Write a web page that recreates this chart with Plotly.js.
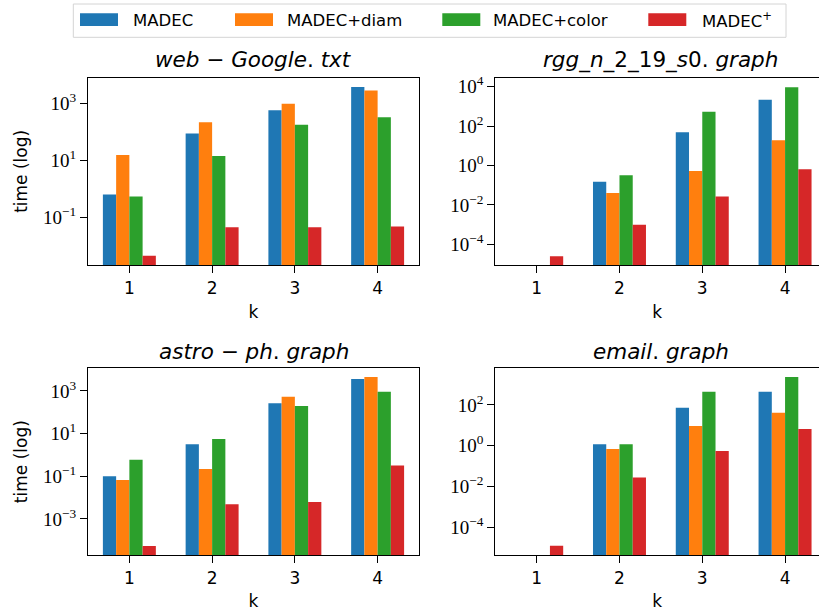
<!DOCTYPE html>
<html>
<head>
<meta charset="utf-8">
<script src="https://cdn.plot.ly/plotly-3.0.1.min.js"></script>
<style>
  html, body { margin: 0; padding: 0; background: #fff; }
  #chart { width: 819px; height: 611px; }
</style>
</head>
<body>
<div id="chart"></div>
<script>
// ---------------- data ----------------
const kValues = [1, 2, 3, 4];
const seriesNames = ['MADEC', 'MADEC+diam', 'MADEC+color', 'MADEC<sup>+</sup>'];
const subplotTitles = [
  '<i>web</i> − <i>Google</i>. <i>txt</i>',
  '<i>rgg</i>_<i>n</i>_2_19_<i>s</i>0. <i>graph</i>',
  '<i>astro</i> − <i>ph</i>. <i>graph</i>',
  '<i>email</i>. <i>graph</i>'
];

// web-Google.txt
const webMADEC = [0.62, 86, 553, 3650];
const webDiam  = [15, 210, 950, 2780];
const webColor = [0.53, 13.8, 174, 314];
const webPlus  = [0.0044, 0.044, 0.044, 0.046];

// rgg_n_2_19_s0.graph
const rggMADEC = [null, 0.148, 49, 2150];
const rggDiam  = [null, 0.04, 0.52, 19.4];
const rggColor = [null, 0.32, 530, 9500];
const rggPlus  = [0.000025, 0.00098, 0.027, 0.65];

// astro-ph.graph
const astroMADEC = [0.1, 3.2, 263, 3650];
const astroDiam  = [0.067, 0.22, 540, 4530];
const astroColor = [0.6, 5.6, 198, 930];
const astroPlus  = [0.000054, 0.0049, 0.0063, 0.32];

// email.graph
const emailMADEC = [null, 1.16, 74, 453];
const emailDiam  = [null, 0.69, 9.3, 41];
const emailColor = [null, 1.16, 453, 2400];
const emailPlus  = [0.000012, 0.027, 0.55, 6.6];

// y tick labels
const webTickVals   = [1e-1, 1e1, 1e3];
const webTickText   = ['10<sup>−1</sup>', '10<sup>1</sup>', '10<sup>3</sup>'];
const rggTickVals   = [1e-4, 1e-2, 1e0, 1e2, 1e4];
const rggTickText   = ['10<sup>−4</sup>', '10<sup>−2</sup>', '10<sup>0</sup>', '10<sup>2</sup>', '10<sup>4</sup>'];
const astroTickVals = [1e-3, 1e-1, 1e1, 1e3];
const astroTickText = ['10<sup>−3</sup>', '10<sup>−1</sup>', '10<sup>1</sup>', '10<sup>3</sup>'];
const emailTickVals = [1e-4, 1e-2, 1e0, 1e2];
const emailTickText = ['10<sup>−4</sup>', '10<sup>−2</sup>', '10<sup>0</sup>', '10<sup>2</sup>'];

// ---------------- style ----------------
const colors = ['#1f77b4', '#ff7f0e', '#2ca02c', '#d62728'];
const barWidth = 0.16;
const offsets = [-0.32, -0.16, 0, 0.16];

const W = 819, H = 611;
const px = v => v / W;
const py = v => 1 - v / H;

const panels = [
  { series: [webMADEC, webDiam, webColor, webPlus], tv: webTickVals, tt: webTickText, yr: [-2.684, 3.889] },
  { series: [rggMADEC, rggDiam, rggColor, rggPlus], tv: rggTickVals, tt: rggTickText, yr: [-5.049, 4.457] },
  { series: [astroMADEC, astroDiam, astroColor, astroPlus], tv: astroTickVals, tt: astroTickText, yr: [-4.6875, 4.0625] },
  { series: [emailMADEC, emailDiam, emailColor, emailPlus], tv: emailTickVals, tt: emailTickText, yr: [-5.377, 3.803] }
];

const traces = [];
panels.forEach((p, i) => {
  const sfx = i === 0 ? '' : String(i + 1);
  p.series.forEach((vals, j) => {
    traces.push({
      type: 'bar',
      name: seriesNames[j],
      x: kValues,
      y: vals,
      width: barWidth,
      offset: offsets[j],
      marker: { color: colors[j], line: { width: 0 } },
      xaxis: 'x' + sfx,
      yaxis: 'y' + sfx,
      showlegend: false
    });
  });
});

const leftDom = [px(88), px(419)];
const rightDom = [px(495.3), 1];
const topDom = [py(265), py(77.7)];
const botDom = [py(555), py(368.3)];

function xAxis(dom, anchor, right) {
  return {
    domain: dom, anchor: anchor, type: 'linear',
    range: right ? [0.5, 4.41] : [0.5, 4.5],
    tickvals: kValues, ticktext: kValues.map(String),
    ticks: 'outside', ticklen: 7, tickwidth: 1.3, tickcolor: '#000',
    showline: true, linecolor: '#000', linewidth: 1.3, mirror: true,
    showgrid: false, zeroline: false,
    tickfont: { family: 'DejaVu Sans', size: 17, color: '#000' },
    title: { text: 'k', font: { family: 'DejaVu Sans', size: 17, color: '#000' }, standoff: 9 }
  };
}
function yAxis(dom, anchor, p, left) {
  const ax = {
    domain: dom, anchor: anchor, type: 'log',
    range: p.yr, tickvals: p.tv, ticktext: p.tt,
    ticks: 'outside', ticklen: 7, tickwidth: 1.3, tickcolor: '#000',
    showline: true, linecolor: '#000', linewidth: 1.3, mirror: left,
    showgrid: false, zeroline: false,
    tickfont: { family: 'Liberation Serif', size: 19, color: '#000' }
  };
  if (left) {
    ax.title = { text: 'time (log)', font: { family: 'DejaVu Sans', size: 17, color: '#000' }, standoff: 10 };
  }
  return ax;
}

const annotations = [];
const titlePos = [[253.5, 60], [660.7, 60], [253.5, 351], [660.7, 351]];
subplotTitles.forEach((t, i) => {
  annotations.push({
    text: t, xref: 'paper', yref: 'paper',
    x: px(titlePos[i][0]), y: py(titlePos[i][1]),
    xanchor: 'center', yanchor: 'middle', showarrow: false,
    font: { family: 'DejaVu Sans', size: 21.5, color: '#000' }
  });
});

// legend drawn as layout decoration
const shapes = [{
  type: 'rect', xref: 'paper', yref: 'paper',
  x0: px(73.3), x1: px(786), y0: py(37.3), y1: py(4),
  line: { color: '#d4d4d4', width: 1 }, fillcolor: 'rgba(255,255,255,0.8)'
}];
const patchX = [80, 235, 442.3, 648.3];
const textX = [132.7, 287.4, 493.3, 701.7];
seriesNames.forEach((n, j) => {
  shapes.push({
    type: 'rect', xref: 'paper', yref: 'paper',
    x0: px(patchX[j]), x1: px(patchX[j] + 38), y0: py(26), y1: py(13.3),
    line: { width: 0 }, fillcolor: colors[j]
  });
  annotations.push({
    text: n, xref: 'paper', yref: 'paper',
    x: px(textX[j] - 2), y: py(20), xanchor: 'left', yanchor: 'middle',
    showarrow: false, font: { family: 'DejaVu Sans', size: 16.5, color: '#000' }
  });
});

const layout = {
  width: W, height: H,
  margin: { l: 0, r: 0, t: 0, b: 0 },
  paper_bgcolor: '#fff', plot_bgcolor: '#fff',
  barmode: 'overlay',
  showlegend: false,
  font: { family: 'DejaVu Sans', size: 17, color: '#000' },
  xaxis: xAxis(leftDom, 'y', false),
  yaxis: yAxis(topDom, 'x', panels[0], true),
  xaxis2: xAxis(rightDom, 'y2', true),
  yaxis2: yAxis(topDom, 'x2', panels[1], false),
  xaxis3: xAxis(leftDom, 'y3', false),
  yaxis3: yAxis(botDom, 'x3', panels[2], true),
  xaxis4: xAxis(rightDom, 'y4', true),
  yaxis4: yAxis(botDom, 'x4', panels[3], false),
  annotations: annotations,
  shapes: shapes
};

Plotly.newPlot('chart', traces, layout, { displayModeBar: false });
</script>
</body>
</html>
